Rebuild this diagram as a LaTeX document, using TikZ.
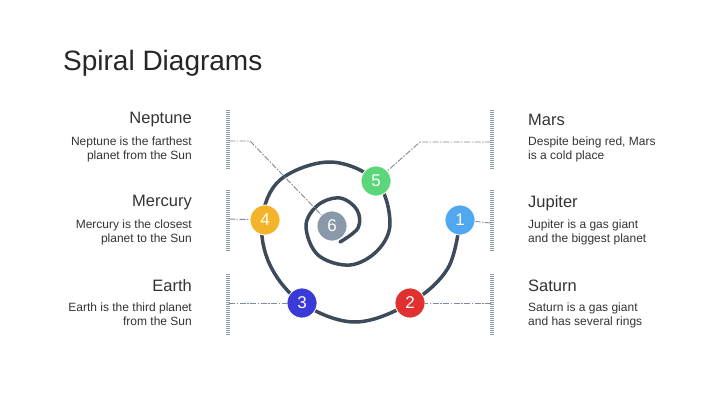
\documentclass[tikz,border=0pt]{standalone}
\usepackage{fontspec}
\setmainfont{Liberation Sans}
\begin{document}
\begin{tikzpicture}[x=1pt,y=-1pt,
  bar/.style={draw=barc,line width=3.2pt,dash pattern=on 1pt off 1pt},
  conn/.style={draw=connc,line width=0.9pt,dash pattern=on 6pt off 1.5pt on 1.5pt off 1.5pt},
  num/.style={circle,minimum size=30pt,inner sep=0pt,draw=white,line width=0.8pt,text=white,font=\fontsize{17}{17}\selectfont},
  hd/.style={font=\fontsize{16.5}{18}\selectfont,text=black!80,inner sep=0pt},
  bd/.style={font=\fontsize{12}{14}\selectfont,text=black!80,inner sep=0pt}]
\definecolor{barc}{HTML}{8E9AA6}
\definecolor{connc}{HTML}{7F8C98}
\definecolor{spc}{HTML}{3D4A5A}
\useasboundingbox (0,0) rectangle (720,405);
\node[anchor=west,inner sep=0pt,font=\fontsize{28}{30}\selectfont,text=black!85] (title) at (63,63) {Spiral Diagrams};
% bars
\foreach \x/\n in {228/L,492/R}{
 \draw[bar] (\x,110) -- (\x,170);
 \draw[bar] (\x,190) -- (\x,252);
 \draw[bar] (\x,274) -- (\x,336);}
% spiral
\draw[spc,line width=3.5pt,line cap=round] plot[smooth,tension=0.6] coordinates{(460,220) (448,268) (410,303) (355,322) (302,303) (270,265) (262,220) (280,180) (330,162) (376,181) (390,222) (378,250) (350,265) (318,255) (306,226) (318,205) (340,198) (357,210) (358,228) (340,242)};
% circles
\node[num,fill={rgb,255:red,79;green,168;blue,240}] (n1) at (460,220) {1};
\node[num,fill={rgb,255:red,224;green,48;blue,48}] (n2) at (410,303) {2};
\node[num,fill={rgb,255:red,58;green,58;blue,216}] (n3) at (302,303) {3};
\node[num,fill={rgb,255:red,244;green,180;blue,42}] (n4) at (265,220) {4};
\node[num,fill={rgb,255:red,91;green,214;blue,122}] (n5) at (376,181) {5};
\node[num,fill={rgb,255:red,138;green,153;blue,170}] (n6) at (332,226) {6};
% connectors
\coordinate (c1) at (229,141); \coordinate (c1b) at (250,141);
\draw[conn] (c1) -- (c1b) -- (n6);
\coordinate (c2) at (491,142); \coordinate (c2b) at (420,142);
\draw[conn] (c2) -- (c2b) -- (n5);
\coordinate (c3) at (229,219); \draw[conn] (c3) -- (n4);
\coordinate (c4) at (491,223); \draw[conn] (c4) -- (n1);
\coordinate (c5) at (229,303); \draw[conn] (c5) -- (n3);
\coordinate (c6) at (491,303); \draw[conn] (c6) -- (n2);
% texts
\node[hd,anchor=east] (t1) at (192,120) {Neptune};
\node[bd,anchor=north east,align=right] (b1) at (192,137) {Neptune is the farthest\\planet from the Sun};
\node[hd,anchor=east] (t2) at (192,203) {Mercury};
\node[bd,anchor=north east,align=right] (b2) at (192,220) {Mercury is the closest\\planet to the Sun};
\node[hd,anchor=east] (t3) at (192,286) {Earth};
\node[bd,anchor=north east,align=right] (b3) at (192,303) {Earth is the third planet\\from the Sun};
\node[hd,anchor=west] (t4) at (528,120) {Mars};
\node[bd,anchor=north west,align=left] (b4) at (528,137) {Despite being red, Mars\\is a cold place};
\node[hd,anchor=west] (t5) at (528,203) {Jupiter};
\node[bd,anchor=north west,align=left] (b5) at (528,220) {Jupiter is a gas giant\\and the biggest planet};
\node[hd,anchor=west] (t6) at (528,286) {Saturn};
\node[bd,anchor=north west,align=left] (b6) at (528,303) {Saturn is a gas giant\\and has several rings};
\end{tikzpicture}
\end{document}
